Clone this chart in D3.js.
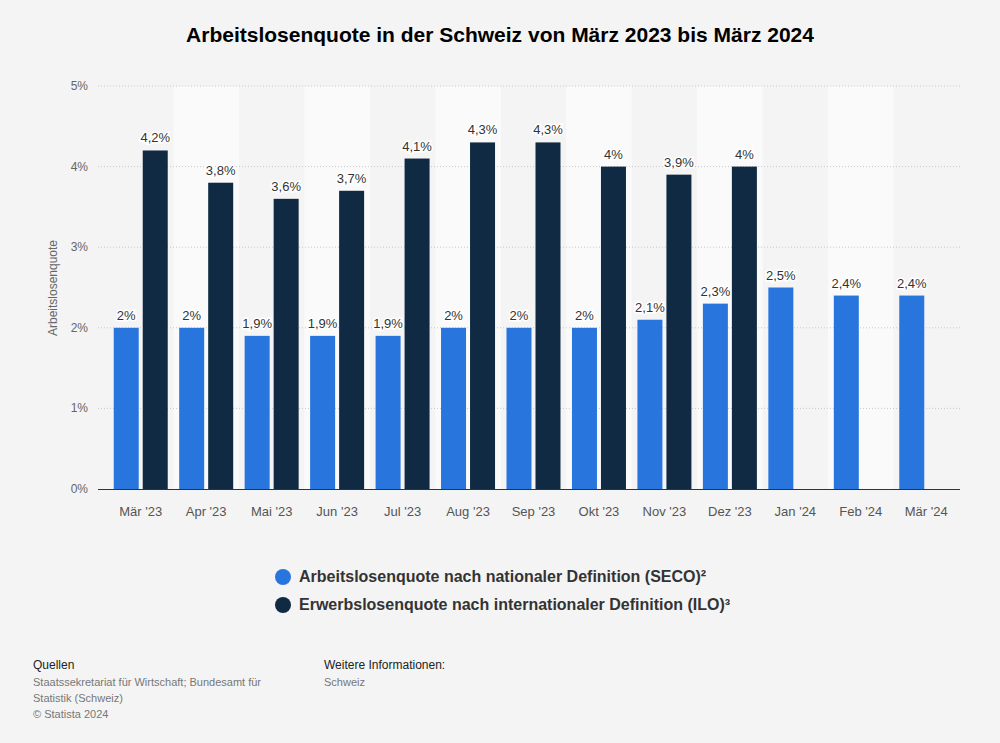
<!DOCTYPE html>
<html><head><meta charset="utf-8">
<script src="https://cdn.jsdelivr.net/npm/d3@7"></script>
<style>body{margin:0;background:#f4f4f4;font-family:"Liberation Sans",Arial,sans-serif}</style>
</head><body><svg id="c" width="1000" height="743"></svg>
<script>
var months = ["Mär '23","Apr '23","Mai '23","Jun '23","Jul '23","Aug '23","Sep '23","Okt '23","Nov '23","Dez '23","Jan '24","Feb '24","Mär '24"];
var seco = [2,2,1.9,1.9,1.9,2,2,2,2.1,2.3,2.5,2.4,2.4];
var ilo = [4.2,3.8,3.6,3.7,4.1,4.3,4.3,4,3.9,4,null,null,null];
var yTicks = [0,1,2,3,4,5];
var seriesNames = ["Arbeitslosenquote nach nationaler Definition (SECO)²","Erwerbslosenquote nach internationaler Definition (ILO)³"];
var colors = ["#2876dd","#0f2a42"];

var svg = d3.select("#c");
svg.append("rect").attr("width",1000).attr("height",743).attr("fill","#f4f4f4");

var x = d3.scaleBand().domain(months).range([108,959]);
var y = d3.scaleLinear().domain([0,5]).range([489,86]);
var fmt = function(v){ return String(v).replace(".",","); };

// alternating stripes
svg.selectAll(".stripe").data(months.filter(function(d,i){return i%2==1;}))
  .enter().append("rect").attr("x",function(d){return x(d);}).attr("y",86)
  .attr("width",x.bandwidth()).attr("height",489-86).attr("fill","#fafafa");

// grid
svg.selectAll(".grid").data(yTicks.slice(1)).enter().append("line")
  .attr("x1",98).attr("x2",960).attr("y1",function(d){return y(d);}).attr("y2",function(d){return y(d);})
  .attr("stroke","#c8c8c8").attr("stroke-dasharray","1,2");
svg.selectAll(".yt").data(yTicks).enter().append("text")
  .attr("x",88).attr("y",function(d){return y(d)+4;}).attr("text-anchor","end")
  .attr("font-size",12).attr("fill","#666").text(function(d){return d+"%";});
svg.append("text").attr("transform","translate(57,288) rotate(-90)").attr("text-anchor","middle")
  .attr("font-size",12).attr("fill","#666").text("Arbeitslosenquote");

// bars
var bw = 25;
function drawSeries(vals, off, col){
  var g = svg.append("g");
  var data = months.map(function(m,i){return {m:m,v:vals[i]};}).filter(function(d){return d.v!=null;});
  g.selectAll("rect").data(data).enter().append("rect")
    .attr("x",function(d){return x(d.m)+x.bandwidth()/2+off;}).attr("y",function(d){return y(d.v);})
    .attr("width",bw).attr("height",function(d){return y(0)-y(d.v);}).attr("fill",col);
  g.selectAll("text").data(data).enter().append("text")
    .attr("x",function(d){return x(d.m)+x.bandwidth()/2+off+bw/2;}).attr("y",function(d){return y(d.v)-8;})
    .attr("text-anchor","middle").attr("font-size",13).attr("fill","#333")
    .attr("stroke","#fff").attr("stroke-width",3).attr("paint-order","stroke")
    .text(function(d){return fmt(d.v)+"%";});
}
drawSeries(seco,-27,colors[0]);
drawSeries(ilo,2,colors[1]);

svg.append("line").attr("x1",98).attr("x2",960).attr("y1",489.5).attr("y2",489.5).attr("stroke","#333");
svg.selectAll(".xt").data(months).enter().append("text")
  .attr("x",function(d){return x(d)+x.bandwidth()/2;}).attr("y",516).attr("text-anchor","middle")
  .attr("font-size",13).attr("fill","#555").text(function(d){return d;});

// title
svg.append("text").attr("x",500).attr("y",42).attr("text-anchor","middle").attr("font-size",21)
  .attr("font-weight","bold").attr("fill","#000").text("Arbeitslosenquote in der Schweiz von März 2023 bis März 2024");

// legend
seriesNames.forEach(function(n,i){
  svg.append("circle").attr("cx",283).attr("cy",577+i*28).attr("r",8).attr("fill",colors[i]);
  svg.append("text").attr("x",299).attr("y",582+i*28).attr("font-size",16).attr("font-weight","bold")
    .attr("fill","#333").text(n);
});

// footer
svg.append("text").attr("x",33).attr("y",669).attr("font-size",12).attr("fill","#222").text("Quellen");
["Staatssekretariat für Wirtschaft; Bundesamt für","Statistik (Schweiz)","© Statista 2024"].forEach(function(t,i){
  svg.append("text").attr("x",33).attr("y",686+i*16).attr("font-size",11).attr("fill","#777").text(t);
});
svg.append("text").attr("x",324).attr("y",669).attr("font-size",12).attr("fill","#222").text("Weitere Informationen:");
svg.append("text").attr("x",324).attr("y",686).attr("font-size",11).attr("fill","#777").text("Schweiz");
</script></body></html>
